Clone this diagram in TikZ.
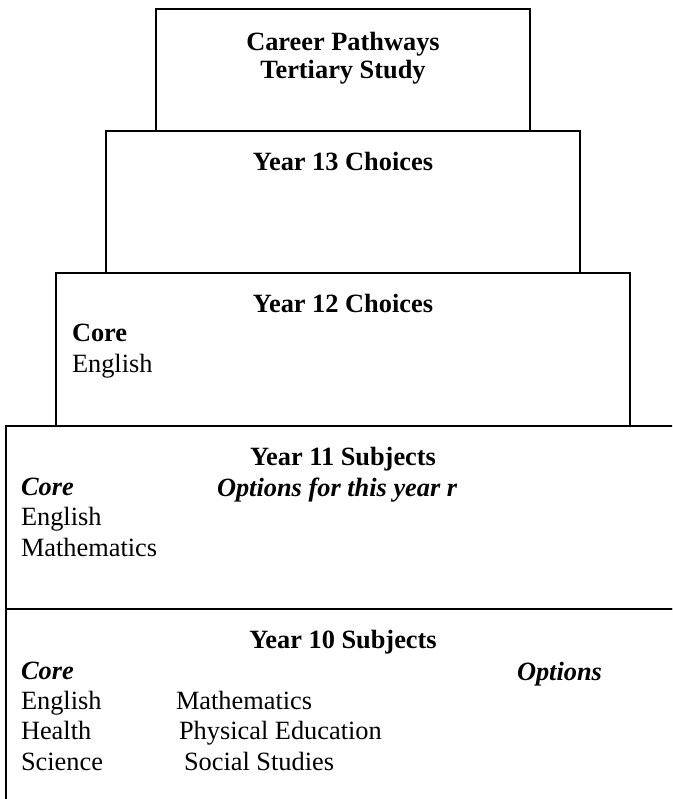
\documentclass[tikz,border=0pt]{standalone}
\usepackage{fontspec}
\setmainfont{Liberation Serif}
\usepackage{tikz}
\usetikzlibrary{positioning}

\newcommand{\tierfont}{\fontsize{15}{17.2}\selectfont}

\begin{document}
\begin{tikzpicture}[node distance=0cm, outer sep=0pt,
    tier/.style={draw, rectangle, line width=0.75pt},
    head/.style={anchor=base, inner sep=0pt, font=\tierfont\bfseries},
    item/.style={anchor=base west, inner sep=0pt, align=left, font=\tierfont}]
    \useasboundingbox (0,0) rectangle (13.44,-15.98);
    \clip (0,0) rectangle (13.44,-15.98);

    \node [tier, minimum width=7.48cm, minimum height=2.44cm] (career) at (6.86,-1.4) {};
    \node [tier, minimum width=9.48cm, minimum height=2.84cm, below=0cm of career] (y13) {};
    \node [tier, minimum width=11.48cm, minimum height=3.06cm, below=0cm of y13] (y12) {};
    \node [tier, minimum width=13.48cm, minimum height=3.66cm, below=0cm of y12] (y11) {};
    \node [tier, minimum width=13.48cm, minimum height=4.2cm, below=0cm of y11] (y10) {};

    % multi-line nodes sit on the baseline of their last line
    \node [head, align=center] (careert) at ([yshift=-1.38cm]career.north) {Career Pathways\\[-1.3pt]Tertiary Study};
    \node [head] (y13t) at ([yshift=-0.78cm]y13.north) {Year 13 Choices};

    \node [head] (y12t) at ([yshift=-0.78cm]y12.north) {Year 12 Choices};
    \node [item] (y12core) at ([shift={(0.32,-1.98)}]y12.north west) {\textbf{Core}\\English};

    \node [head] (y11t) at ([yshift=-0.78cm]y11.north) {Year 11 Subjects};
    \node [item] (y11core) at ([shift={(0.3,-2.6)}]y11.north west) {\textbf{\textit{Core}}\\English\\Mathematics};
    \node [item] (y11opt) at ([shift={(4.22,-1.4)}]y11.north west) {\textbf{\textit{Options for this year r}}};

    \node [head] (y10t) at ([yshift=-0.78cm]y10.north) {Year 10 Subjects};
    \node [item] (y10core) at ([shift={(0.3,-3.22)}]y10.north west) {\textbf{\textit{Core}}\\English\\Health\\Science};
    \node [item] (y10mid) at ([shift={(3.4,-3.22)}]y10.north west) {Mathematics\\\hspace{0.06cm}Physical Education\\\hspace{0.16cm}Social Studies};
    \node [item] (y10opt) at ([shift={(10.22,-1.42)}]y10.north west) {\textbf{\textit{Options}}};

\end{tikzpicture}
\end{document}
